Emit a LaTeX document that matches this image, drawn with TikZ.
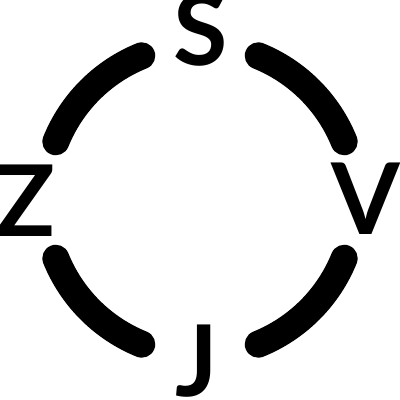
\documentclass[tikz,border=0pt]{standalone}
\usepackage{fontspec}
\setmainfont{Lato}
\begin{document}
\begin{tikzpicture}[x=1pt,y=1pt,
  ring/.style={line width=27pt,line cap=round,black},
  letter/.style={anchor=base,inner sep=0pt,font=\fontsize{99}{99}\selectfont\bfseries}]
\useasboundingbox (0,0) rectangle (400,400);
\coordinate (c) at (200,200);
\def\R{155.5}
\draw[ring] (c) ++(112:\R) arc[start angle=112,end angle=158,radius=\R];
\draw[ring] (c) ++(22:\R) arc[start angle=22,end angle=68,radius=\R];
\draw[ring] (c) ++(-68:\R) arc[start angle=-68,end angle=-22,radius=\R];
\draw[ring] (c) ++(202:\R) arc[start angle=202,end angle=248,radius=\R];
\node[letter] (s) at (201,334) {S};
\node[letter] (v) at (365.5,165) {V};
\node[letter] (j) at (197,3) {J};
\node[letter] (z) at (25,163) {Z};
\end{tikzpicture}
\end{document}
